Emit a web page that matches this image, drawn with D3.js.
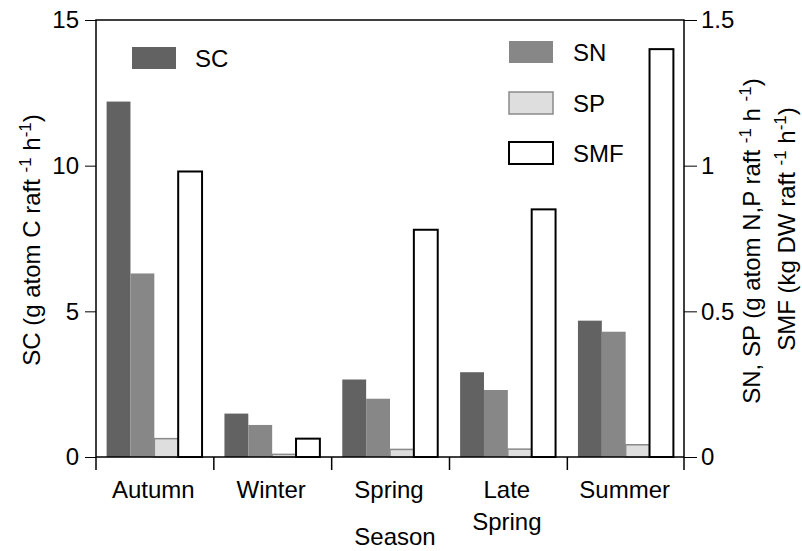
<!DOCTYPE html>
<html>
<head>
<meta charset="utf-8">
<script src="https://cdn.jsdelivr.net/npm/d3@7"></script>
<style>
  html, body { margin: 0; padding: 0; background: #fff; }
  svg { display: block; font-family: "Liberation Sans", Arial, sans-serif; }
</style>
</head>
<body>
<div id="chart"></div>
<script>
// data
const seasons = ["Autumn", "Winter", "Spring", "Late Spring", "Summer"];
const scValues = [12.2, 1.49, 2.66, 2.91, 4.68];      // left axis
const snValues = [0.63, 0.11, 0.20, 0.23, 0.43];       // right axis
const spValues = [0.063, 0.009, 0.026, 0.027, 0.042];  // right axis
const smfValues = [0.98, 0.063, 0.78, 0.85, 1.40];     // right axis
const leftTicks = [0, 5, 10, 15];
const rightTicks = [0, 0.5, 1, 1.5];
const seriesNames = ["SC", "SN", "SP", "SMF"];

const width = 802, height = 551;
const plot = { left: 96, right: 684, top: 20, bottom: 457 };
const fs = 24;

const svg = d3.select('#chart').append('svg')
    .attr('width', width)
    .attr('height', height);

const x = d3.scaleBand()
    .domain(seasons)
    .range([plot.left, plot.right])
    .paddingInner(0.19)
    .paddingOuter(0.09);

const xs = d3.scaleBand()
    .domain(seriesNames)
    .range([0, x.bandwidth()]);

const yLeft = d3.scaleLinear().domain([0, 15]).range([plot.bottom, plot.top]);
const yRight = d3.scaleLinear().domain([0, 1.5]).range([plot.bottom, plot.top]);

const styles = {
    SC: { fill: '#626262', stroke: 'none', sw: 0 },
    SN: { fill: '#878787', stroke: 'none', sw: 0 },
    SP: { fill: '#dedede', stroke: '#8a8a8a', sw: 1.5 },
    SMF: { fill: '#ffffff', stroke: '#000000', sw: 2 }
};

const rows = seasons.map((s, i) => ({
    season: s,
    bars: [
        { key: 'SC', y: yLeft, v: scValues[i] },
        { key: 'SN', y: yRight, v: snValues[i] },
        { key: 'SP', y: yRight, v: spValues[i] },
        { key: 'SMF', y: yRight, v: smfValues[i] }
    ]
}));

const groups = svg.append('g').selectAll('g')
    .data(rows)
    .join('g')
    .attr('transform', d => `translate(${x(d.season)},0)`);

groups.selectAll('rect')
    .data(d => d.bars)
    .join('rect')
    .attr('x', d => xs(d.key))
    .attr('width', xs.bandwidth())
    .attr('y', d => d.y(d.v))
    .attr('height', d => plot.bottom - d.y(d.v))
    .attr('fill', d => styles[d.key].fill)
    .attr('stroke', d => styles[d.key].stroke)
    .attr('stroke-width', d => styles[d.key].sw);

// frame
svg.append('rect')
    .attr('x', plot.left)
    .attr('y', plot.top)
    .attr('width', plot.right - plot.left)
    .attr('height', plot.bottom - plot.top)
    .attr('fill', 'none')
    .attr('stroke', '#000')
    .attr('stroke-width', 1.5);

// left axis
const axL = svg.append('g')
    .attr('transform', `translate(${plot.left},0)`)
    .call(d3.axisLeft(yLeft).tickValues(leftTicks).tickSize(11).tickPadding(6).tickFormat(d3.format('d')));

// right axis
const axR = svg.append('g')
    .attr('transform', `translate(${plot.right},0)`)
    .call(d3.axisRight(yRight).tickValues(rightTicks).tickSize(13).tickPadding(4).tickFormat(d => String(d)));

// bottom axis: ticks at band edges, labels at band centres
const edges = seasons.map(s => x(s) - x.step() * x.paddingOuter()).concat([plot.right]);
const axB = svg.append('g');
axB.selectAll('line')
    .data(edges)
    .join('line')
    .attr('x1', d => d).attr('x2', d => d)
    .attr('y1', plot.bottom).attr('y2', plot.bottom + 13)
    .attr('stroke', '#000').attr('stroke-width', 1.5);

axB.selectAll('text')
    .data(seasons)
    .join('text')
    .attr('y', 498)
    .attr('text-anchor', 'middle')
    .attr('font-size', fs)
    .each(function (d) {
        const cx = x(d) + x.bandwidth() / 2 - 1;
        d3.select(this).selectAll('tspan')
            .data(d.split(' '))
            .join('tspan')
            .attr('x', cx)
            .attr('dy', (p, i) => i === 0 ? 0 : 32)
            .text(p => p);
    });

[axL, axR].forEach(ax => {
    ax.select('.domain').remove();
    ax.selectAll('.tick line').attr('stroke', '#000').attr('stroke-width', 1);
    ax.selectAll('.tick text')
        .attr('font-size', fs)
        .attr('font-family', '"Liberation Sans", Arial, sans-serif')
        .attr('fill', '#000');
});

// axis titles
function unitLabel(g, parts) {
    const t = g.append('text')
        .attr('text-anchor', 'middle')
        .attr('font-size', fs);
    parts.forEach(p => {
        if (p.sup) {
            t.append('tspan').attr('font-size', 17).attr('dy', -9).text(p.sup);
            t.append('tspan').attr('dy', 9).text(p.after || '');
        } else {
            t.append('tspan').text(p.text);
        }
    });
    return t;
}

unitLabel(svg.append('g').attr('transform', 'translate(40,240) rotate(-90)'), [
    { text: 'SC (g atom C raft ' }, { sup: '-1', after: ' h' }, { sup: '-1', after: ')' }
]);

unitLabel(svg.append('g').attr('transform', 'translate(760,241) rotate(-90)'), [
    { text: 'SN, SP (g atom N,P raft ' }, { sup: '-1', after: ' h ' }, { sup: '-1', after: ')' }
]);

unitLabel(svg.append('g').attr('transform', 'translate(795,229) rotate(-90)'), [
    { text: 'SMF (kg DW raft ' }, { sup: '-1', after: ' h' }, { sup: '-1', after: ')' }
]);

svg.append('text')
    .attr('x', 395)
    .attr('y', 545)
    .attr('text-anchor', 'middle')
    .attr('font-size', fs)
    .text('Season');

// legend
const legendItems = [
    { key: 'SC', x: 132, y: 47, tx: 195 },
    { key: 'SN', x: 509, y: 41, tx: 573 },
    { key: 'SP', x: 509, y: 92, tx: 573 },
    { key: 'SMF', x: 509, y: 142, tx: 573 }
];
const legend = svg.append('g');
legendItems.forEach(item => {
    const st = styles[item.key];
    legend.append('rect')
        .attr('x', item.x).attr('y', item.y)
        .attr('width', 44).attr('height', 22)
        .attr('fill', st.fill)
        .attr('stroke', st.stroke)
        .attr('stroke-width', st.sw);
    legend.append('text')
        .attr('x', item.tx)
        .attr('y', item.y + 20)
        .attr('font-size', fs)
        .text(item.key);
});
</script>
</body>
</html>
